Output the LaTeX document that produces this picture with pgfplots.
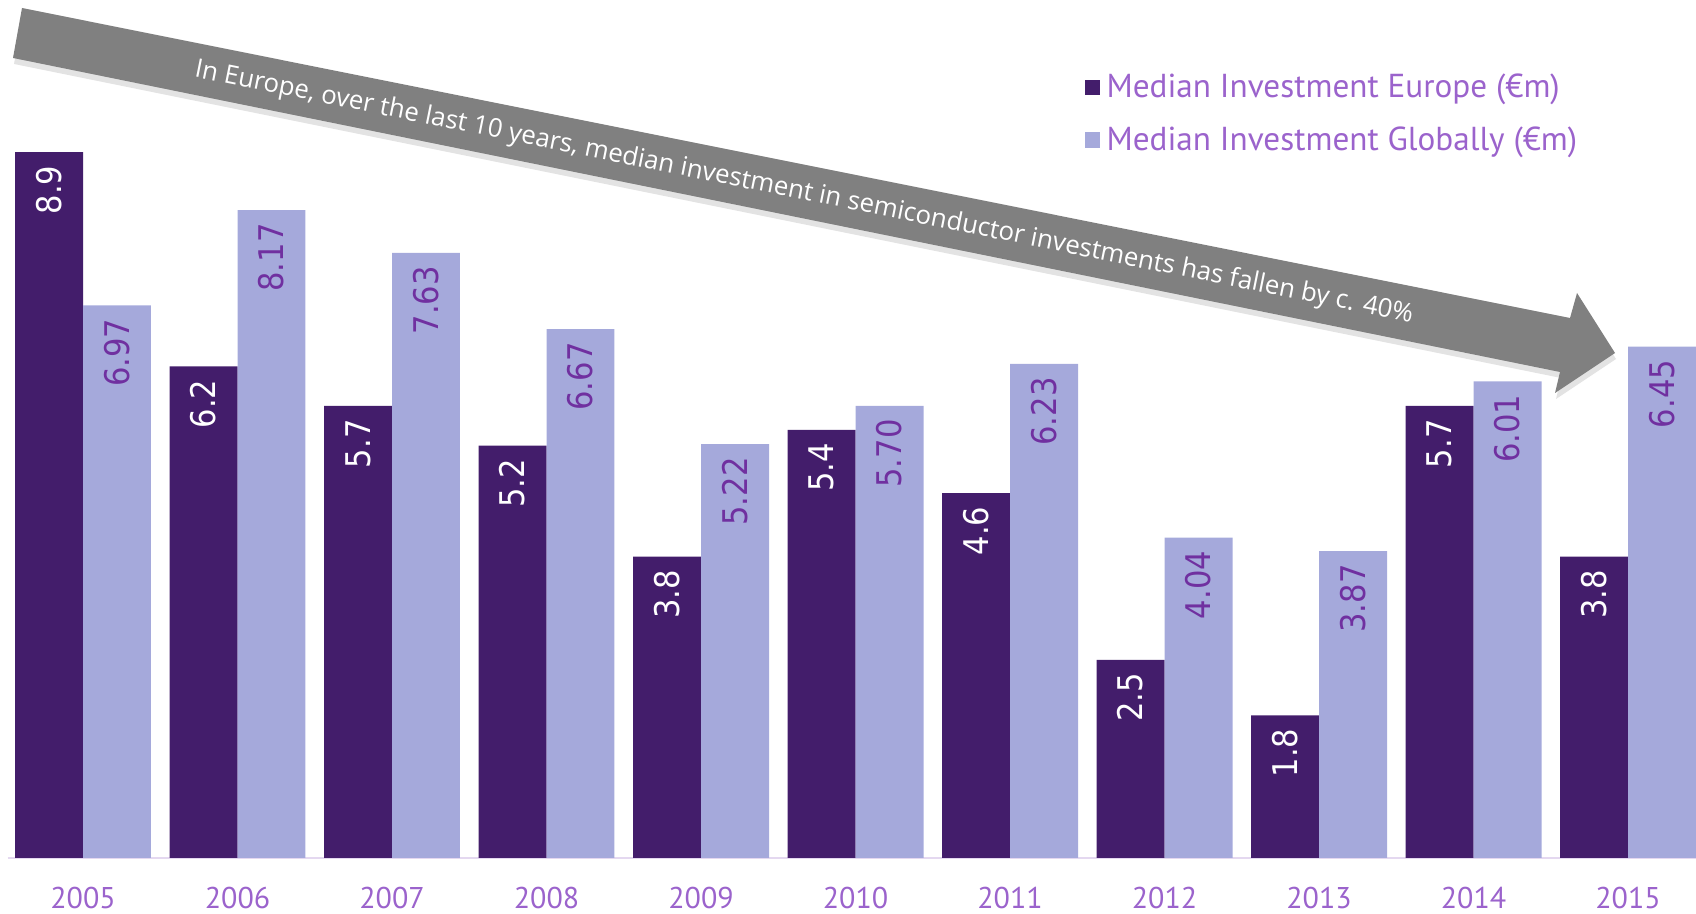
\documentclass[border=0pt]{standalone}
\usepackage{fontspec}
\setmainfont{PT Sans}
\newfontfamily\lblfont{DejaVu Sans Condensed}
\newfontfamily\arwfont{Open Sans}
\usepackage{pgfplots}
\pgfplotsset{compat=1.18}
\usetikzlibrary{shadows}
\definecolor{eur}{HTML}{431D6B}
\definecolor{glb}{HTML}{A5A9DB}
\definecolor{glbtxt}{HTML}{7030A0}
\definecolor{legtxt}{HTML}{9B63CC}
\definecolor{axln}{HTML}{E4D8F0}
\definecolor{arw}{HTML}{808080}
\begin{document}
\begin{tikzpicture}
\useasboundingbox (0,0) rectangle (848pt,457pt);
\begin{axis}[
  at={(3.75pt,28pt)}, anchor=south west,
  scale only axis, width=844.25pt, height=429pt,
  xmin=-0.4887, xmax=10.44, ymin=0, ymax=10.82,
  axis x line*=bottom, axis y line=none,
  x axis line style={draw=axln, line width=1pt},
  xtick={0,...,10},
  xticklabels={2005,2006,2007,2008,2009,2010,2011,2012,2013,2014,2015},
  major tick length=0pt,
  xticklabel style={font=\fontsize{15}{18}\selectfont, text=legtxt, anchor=base, inner sep=0pt, yshift=-25.5pt},
  ytick=\empty,
  ybar, bar width=0.44,
  nodes near coords, point meta=explicit symbolic,
  every node near coord/.append style={font=\lblfont\fontsize{17}{20}\selectfont, rotate=90, anchor=east, inner ysep=0pt, inner xsep=6.5pt},
  legend style={at={(axis description cs:0.6376,0.918)}, anchor=north west, draw=none, fill=none,
    font=\fontsize{16.6}{18}\selectfont, text=legtxt, row sep=9.5pt, inner sep=0pt,
    nodes={inner sep=1.75pt}, /tikz/every odd column/.append style={column sep=1.5pt}},
  legend cell align=left,
]
\addplot[fill=eur, draw=none, bar shift=-0.22,
  every node near coord/.append style={text=white},
  legend image code/.code={\fill[eur] (0pt,-3.9pt) rectangle (7.8pt,3.9pt);}]
  coordinates {(0,8.9)[8.9] (1,6.2)[6.2] (2,5.7)[5.7] (3,5.2)[5.2] (4,3.8)[3.8] (5,5.4)[5.4]
               (6,4.6)[4.6] (7,2.5)[2.5] (8,1.8)[1.8] (9,5.7)[5.7] (10,3.8)[3.8]};
\addlegendentry{Median Investment Europe (€m)}
\addplot[fill=glb, draw=none, bar shift=0.22,
  every node near coord/.append style={text=glbtxt},
  legend image code/.code={\fill[glb] (0pt,-3.9pt) rectangle (7.8pt,3.9pt);}]
  coordinates {(0,6.97)[6.97] (1,8.17)[8.17] (2,7.63)[7.63] (3,6.67)[6.67] (4,5.22)[5.22] (5,5.70)[5.70]
               (6,6.23)[6.23] (7,4.04)[4.04] (8,3.87)[3.87] (9,6.01)[6.01] (10,6.45)[6.45]};
\addlegendentry{Median Investment Globally (€m)}
\end{axis}
\begin{scope}[x=1pt,y=1pt]
\fill[arw, drop shadow={shadow xshift=0.5pt, shadow yshift=-3pt, opacity=0.22}]
  (11,453) -- (785,298) -- (788.5,310.5) -- (807.5,280.5) -- (777.5,260.5) -- (780,271) -- (6.5,428) -- cycle;
\node[text=white, font=\arwfont\fontsize{12.9}{14}\selectfont, rotate=-11.4, inner sep=0pt] at (402,360.5)
  {In Europe, over the last 10 years, median investment in semiconductor investments has fallen by c. 40\%};
\end{scope}
\end{tikzpicture}
\end{document}
